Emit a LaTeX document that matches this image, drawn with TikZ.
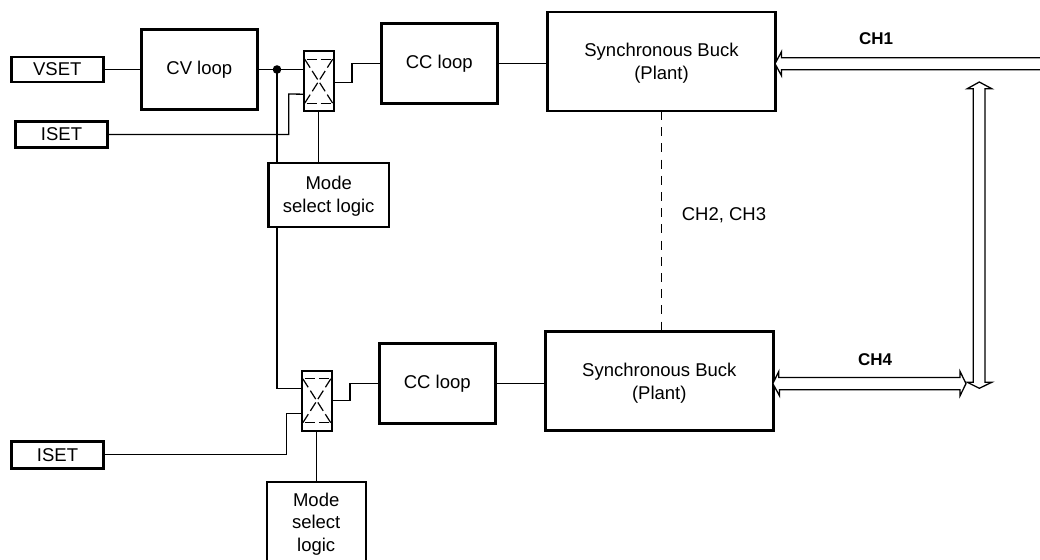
\documentclass[tikz,border=0pt]{standalone}
\usepackage{fontspec}
\setmainfont{Liberation Sans}
\usetikzlibrary{calc}
\newcommand{\lowerstrut}{\rule{0pt}{17pt}}
\tikzset{
  box/.style={draw=black,line width=2.4pt,inner sep=0pt,outer sep=0pt,align=center,font=\fontsize{18.5}{23}\selectfont},
  wire/.style={draw=black,line width=1.3pt,line join=miter},
  inner dash/.style={draw=black,line width=1.2pt,dash pattern=on 10pt off 4pt},
  bus/.style={draw=black,line width=1.3pt,fill=white,line join=miter},
  lbl/.style={inner sep=0pt,font=\fontsize{18.5}{23}\selectfont},
}
\begin{document}
\begin{tikzpicture}[x=1pt,y=-1pt]
\useasboundingbox (0,0) rectangle (1040,559);
\clip (0,0) rectangle (1040,559);
% nodes
\node[box,minimum width=92pt,minimum height=25pt] (vset) at (57.3,69.5) {VSET};
\node[box,minimum width=116pt,minimum height=80pt] (cv) at (199.3,69.5) {CV loop};
\node[box,minimum width=92pt,minimum height=26pt] (iset1) at (61.5,134.5) {ISET};
\node[box,minimum width=30pt,minimum height=60pt] (m1) at (318.7,81.2) {};
\node[box,minimum width=116pt,minimum height=80pt] (cc1) at (439.3,63.5) {CC loop};
\node[box,minimum width=228pt,minimum height=99pt] (b1) at (661.5,61.5) {\lowerstrut Synchronous Buck\\(Plant)};
\node[box,minimum width=120.5pt,minimum height=64pt] (ms1) at (328.7,194.7) {\lowerstrut Mode\\select logic};
\node[box,minimum width=30pt,minimum height=60pt] (m2) at (316.8,400.8) {};
\node[box,minimum width=116pt,minimum height=80pt] (cc2) at (437.3,383.3) {CC loop};
\node[box,minimum width=228pt,minimum height=99pt] (b2) at (659.3,381) {\lowerstrut Synchronous Buck\\(Plant)};
\node[box,minimum width=92pt,minimum height=27pt] (iset2) at (57.5,454.8) {ISET};
\node[box,minimum width=99pt,minimum height=85pt] (ms2) at (316.2,524.2) {Mode\\[-0.5pt]select\\[-0.5pt]logic};
\node[lbl] (lch23) at (724,215) {CH2, CH3};
\node[lbl,font=\fontsize{17}{20}\selectfont\bfseries] (lch1) at (876,39) {CH1};
\node[lbl,font=\fontsize{17}{20}\selectfont\bfseries] (lch4) at (875,359.5) {CH4};
% mux interior
\foreach \m in {m1,m2}{
  \draw[inner dash] ($(\m.north west)+(3,8)$) -- ($(\m.north east)+(0,8)$);
  \draw[inner dash] ($(\m.south west)+(3,-8)$) -- ($(\m.south east)+(0,-8)$);
  \draw[inner dash] ($(\m.north east)+(-1,8)$) -- ($(\m.south west)+(1,-8)$);
  \draw[inner dash] ($(\m.north west)+(1,8)$) -- ($(\m.south east)+(-1,-8)$);
}
% wires
\coordinate (dot) at (277,69.5);
\coordinate (m1a) at (m1.west |- dot);
\coordinate (m1b) at ($(m1.west)+(0,13)$);
\coordinate (m1o) at ($(m1.east)+(0,1)$);
\coordinate (m2a) at ($(m2.west)+(0,-12)$);
\coordinate (m2b) at ($(m2.west)+(0,13)$);
\coordinate (m2o) at (m2.east);
\draw[wire] (vset) -- (cv);
\draw[wire] (cv) -- (m1a);
\fill (dot) circle (4.3pt);
\draw[wire] (dot) -- (dot |- ms1.north);
\draw[wire] (iset1.east) -| (288.7,94) -- (m1b);
\draw[wire] (m1o) -| (352,63.5) -- (cc1.west);
\draw[wire] (m1.south) -- (m1.south |- ms1.north);
\draw[wire] (cc1) -- (b1.west |- cc1);
\draw[wire] (dot |- ms1.south) |- (m2a);
\draw[wire] (iset2.east) -| (286.7,413.8) -- (m2b);
\draw[wire] (m2o) -| (350,383.3) -- (cc2.west);
\draw[wire] (m2.south) -- (m2.south |- ms2.north);
\draw[wire] (cc2) -- (cc2 -| b2.west);
\draw[wire,dash pattern=on 9pt off 7.2pt] (b1.south) -- (b1.south |- b2.north);
% buses
\coordinate (ch1tip) at ($(b1.east)+(-0.5,2.2)$);
\coordinate (ch4l) at ($(b2.east)+(-0.5,2.6)$);
\coordinate (ch4r) at (966,383.6);
\coordinate (vtop) at (979.3,82);
\coordinate (vbot) at (979.3,388.3);
\draw[bus] (1045,69.7) -- (781.5,69.7) -- (781.5,75.7) -- (ch1tip) -- (781.5,51.7) -- (781.5,57.7) -- (1045,57.7);
\draw[bus] (ch4l) -- ++(6,-12.2) -- ++(0,6) -- (960,377.4) -- (960,371.4) -- (ch4r) -- (960,395.8) -- (960,389.8) -- (779.5,389.8) -- ++(0,6) -- cycle;
\draw[bus] (vtop) -- (991.7,88.7) -- (985,88.7) -- (985,382.3) -- (991.7,382.3) -- (vbot) -- (967.3,382.3) -- (973.3,382.3) -- (973.3,88.7) -- (967.3,88.7) -- cycle;
\end{tikzpicture}
\end{document}
